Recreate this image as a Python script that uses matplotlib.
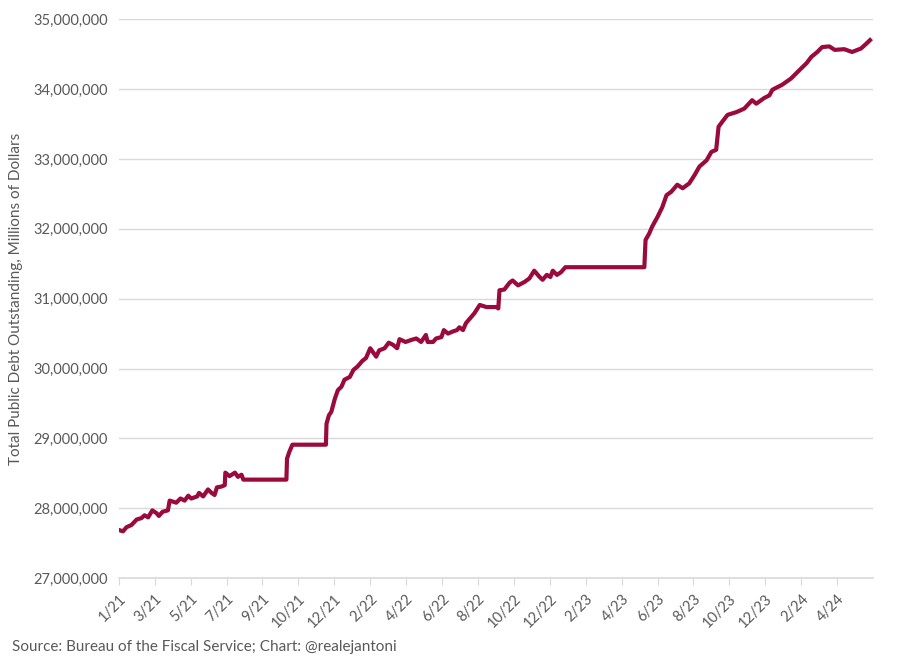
import matplotlib
matplotlib.use("Agg")
import matplotlib.pyplot as plt
import matplotlib.ticker as mticker
import numpy as np
import pandas as pd

# total public debt outstanding, trillions of dollars
dates = [
    "2021-01-04", "2021-01-11", "2021-01-17", "2021-01-25", "2021-02-03", "2021-02-11",
    "2021-02-16", "2021-02-22", "2021-03-01", "2021-03-08", "2021-03-12", "2021-03-18",
    "2021-03-27", "2021-03-30", "2021-04-10", "2021-04-17", "2021-04-24", "2021-04-30",
    "2021-05-05", "2021-05-15", "2021-05-18", "2021-05-25", "2021-06-02", "2021-06-08",
    "2021-06-13", "2021-06-17", "2021-06-24", "2021-06-30", "2021-07-01", "2021-07-08",
    "2021-07-17", "2021-07-22", "2021-07-28", "2021-07-31", "2021-10-11", "2021-10-12",
    "2021-10-16", "2021-10-21", "2021-12-16", "2021-12-17", "2021-12-21", "2021-12-25",
    "2021-12-31", "2022-01-05", "2022-01-11", "2022-01-16", "2022-01-25", "2022-01-31",
    "2022-02-07", "2022-02-15", "2022-02-21", "2022-02-28", "2022-03-05", "2022-03-10",
    "2022-03-15", "2022-03-24", "2022-03-31", "2022-04-07", "2022-04-14", "2022-04-18",
    "2022-04-28", "2022-05-08", "2022-05-16", "2022-05-24", "2022-06-01", "2022-06-04",
    "2022-06-13", "2022-06-18", "2022-06-27", "2022-07-01", "2022-07-08", "2022-07-16",
    "2022-07-23", "2022-07-27", "2022-08-02", "2022-08-07", "2022-08-14", "2022-08-21",
    "2022-08-30", "2022-09-10", "2022-09-27", "2022-09-30", "2022-10-02", "2022-10-10",
    "2022-10-19", "2022-10-24", "2022-11-02", "2022-11-13", "2022-11-21", "2022-11-29",
    "2022-12-08", "2022-12-13", "2022-12-20", "2022-12-26", "2022-12-30", "2023-01-06",
    "2023-01-13", "2023-01-20", "2023-03-15", "2023-06-01", "2023-06-03", "2023-06-09",
    "2023-06-14", "2023-06-23", "2023-07-01", "2023-07-08", "2023-07-16", "2023-07-26",
    "2023-08-04", "2023-08-15", "2023-08-24", "2023-09-01", "2023-09-13", "2023-09-21",
    "2023-09-29", "2023-10-03", "2023-10-09", "2023-10-18", "2023-11-02", "2023-11-15",
    "2023-11-28", "2023-12-05", "2023-12-18", "2023-12-27", "2024-01-01", "2024-01-17",
    "2024-02-01", "2024-02-15", "2024-02-27", "2024-03-06", "2024-03-16", "2024-03-24",
    "2024-04-05", "2024-04-14", "2024-04-30", "2024-05-13", "2024-05-28", "2024-06-06",
    "2024-06-12",
]
debt_tn = [
    27.69, 27.67, 27.73, 27.76, 27.84, 27.86,
    27.90, 27.87, 27.97, 27.93, 27.89, 27.95,
    27.97, 28.11, 28.08, 28.14, 28.11, 28.18,
    28.14, 28.17, 28.22, 28.17, 28.27, 28.22,
    28.19, 28.30, 28.31, 28.33, 28.51, 28.46,
    28.51, 28.45, 28.48, 28.41, 28.41, 28.71,
    28.81, 28.91, 28.91, 29.21, 29.33, 29.38,
    29.57, 29.69, 29.74, 29.84, 29.88, 29.98,
    30.03, 30.11, 30.15, 30.29, 30.23, 30.17,
    30.26, 30.29, 30.37, 30.34, 30.29, 30.42,
    30.38, 30.41, 30.43, 30.38, 30.48, 30.38,
    30.38, 30.43, 30.45, 30.55, 30.50, 30.53,
    30.55, 30.59, 30.55, 30.65, 30.72, 30.79,
    30.91, 30.88, 30.88, 30.86, 31.12, 31.13,
    31.23, 31.26, 31.19, 31.24, 31.29, 31.40,
    31.31, 31.27, 31.34, 31.31, 31.40, 31.34,
    31.38, 31.45, 31.45, 31.45, 31.84, 31.93,
    32.03, 32.17, 32.31, 32.48, 32.53, 32.63,
    32.58, 32.65, 32.77, 32.89, 32.98, 33.10,
    33.13, 33.46, 33.53, 33.63, 33.67, 33.72,
    33.84, 33.79, 33.87, 33.91, 33.99, 34.06,
    34.15, 34.27, 34.37, 34.46, 34.53, 34.60,
    34.61, 34.56, 34.57, 34.53, 34.58, 34.65,
    34.70,
]

x = pd.to_datetime(dates)
y = np.array(debt_tn) * 1e6  # millions of dollars

plt.rcParams['font.family'] = ['Lato', 'DejaVu Sans']

fig = plt.figure(figsize=(9, 6.6), dpi=100)
ax = fig.add_axes([0.132, 0.124, 0.838, 0.847])

ax.plot(x, y, color='#9a0a3c', lw=3.0, solid_joinstyle='round', zorder=3)

ax.set_ylim(27e6, 35e6)
ax.yaxis.set_major_locator(mticker.MultipleLocator(1e6))
ax.yaxis.set_major_formatter(mticker.StrMethodFormatter('{x:,.0f}'))
ax.grid(axis='y', color='#d9d9d9', lw=1)
ax.set_axisbelow(True)

# excel date axis: a tick every 60 days from the first data point
start = pd.Timestamp("2021-01-04")
ticks = [start + pd.Timedelta(days=60 * i) for i in range(21)]
ax.set_xticks(ticks)
ax.set_xticklabels(["{}/{}".format(t.month, t.strftime('%y')) for t in ticks],
                   rotation=45, ha='right', rotation_mode='anchor')
ax.set_xlim(start, pd.Timestamp("2024-06-17"))

for side in ['left', 'right', 'top']:
    ax.spines[side].set_visible(False)
ax.spines['bottom'].set_color('#d9d9d9')
ax.spines['bottom'].set_linewidth(1.2)
ax.tick_params(axis='x', colors='#d9d9d9', length=5, labelcolor='#595959',
               labelsize=10.5, pad=5)
ax.tick_params(axis='y', length=0, labelcolor='#595959', labelsize=10.5, pad=8)

ax.set_ylabel("Total Public Debt Outstanding, Millions of Dollars",
              color='#595959', fontsize=11, labelpad=7)

fig.text(0.013, 0.014, "Source: Bureau of the Fiscal Service; Chart: @realejantoni",
         color='#595959', fontsize=11)

fig.savefig("out.png", dpi=100)
